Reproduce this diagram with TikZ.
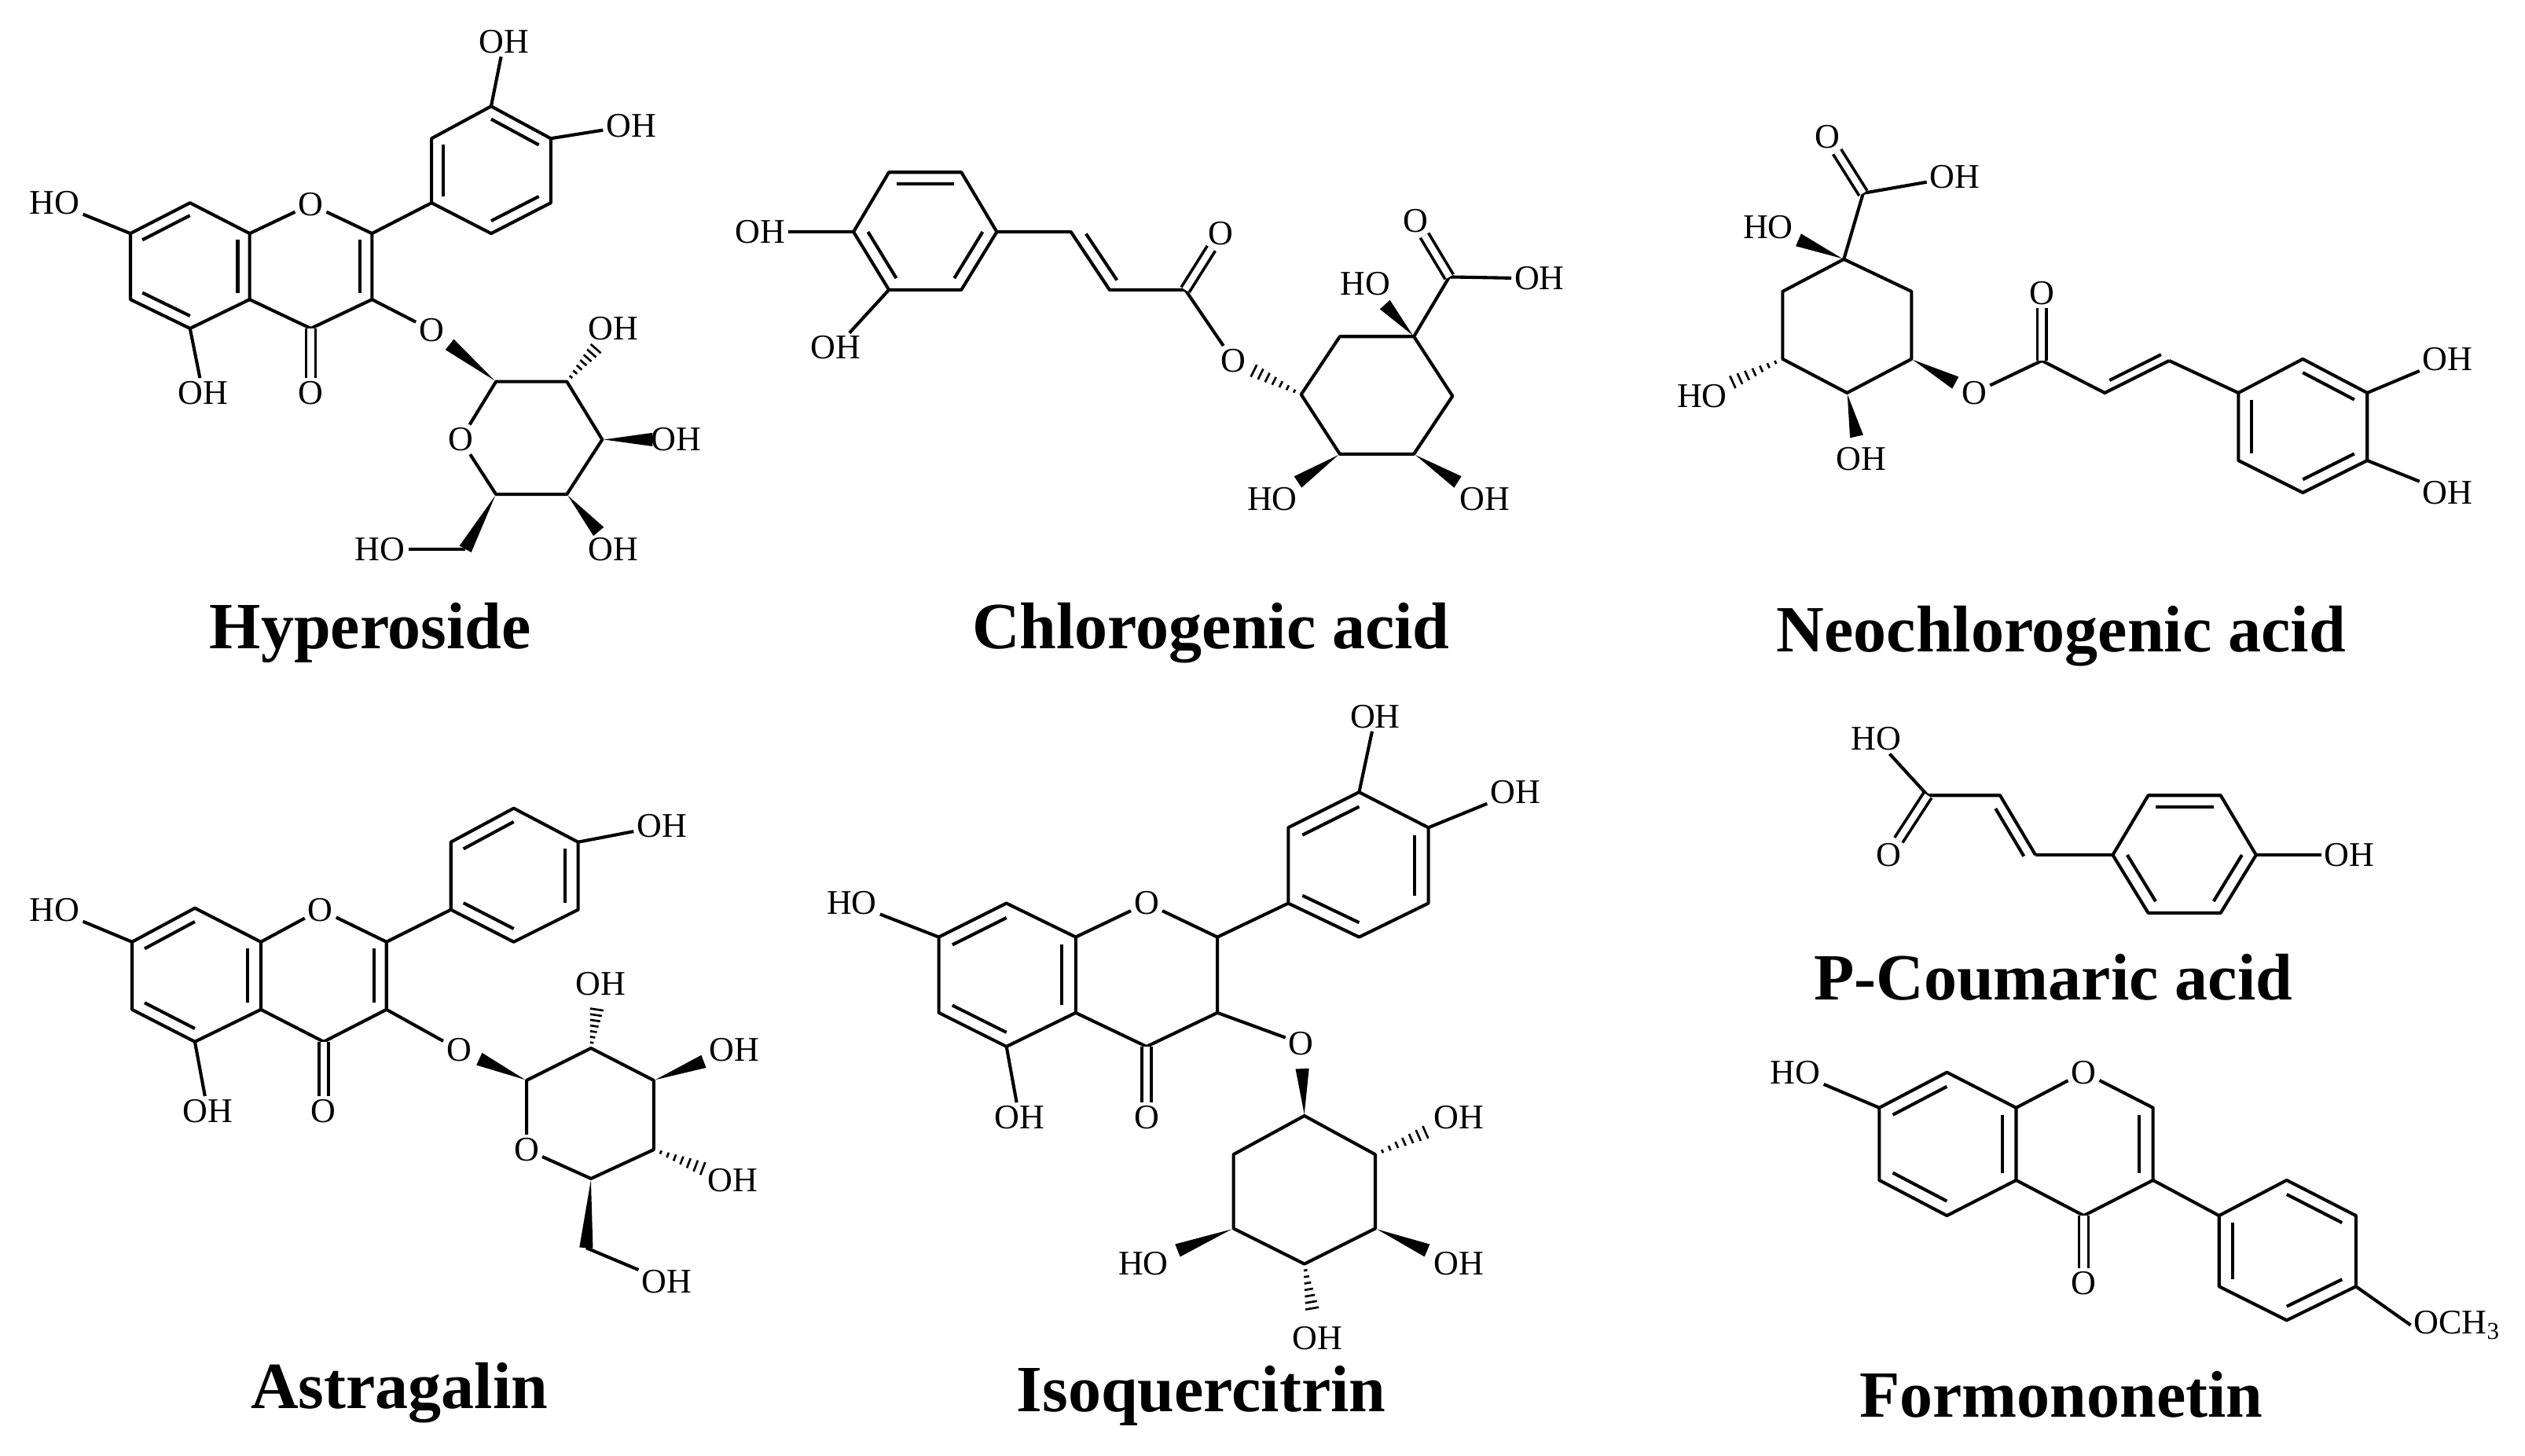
\documentclass[tikz,border=0pt]{standalone}
\usepackage{fontspec}
\setmainfont{Liberation Serif}
\usetikzlibrary{calc}
\newcommand\labfont{\fontsize{21.5}{21.5}\selectfont}
\newcommand\namefont{\fontsize{41}{41}\selectfont\bfseries}
% inner double bond: a, b, ring centre
\newcommand\ib[3]{\draw ($(#1)!0.2!(#3)$) -- ($(#2)!0.2!(#3)$);}
% wedge: narrow at #1, wide toward #2 at fraction #3
\newcommand\wdg[3]{\fill ($(#1)!0.02!(#2)$) -- ($($(#1)!#3!(#2)$)!4.2pt!90:(#1)$) -- ($($(#1)!#3!(#2)$)!4.2pt!-90:(#1)$) -- cycle;}
% hashed bond
\newcommand\hsh[3]{\foreach \t in {1,...,7}{\pgfmathsetmacro\f{#3*\t/7}\pgfmathsetmacro\w{0.6+3.6*\t/7}\draw[line width=1.3pt] ($($(#1)!\f!(#2)$)!\w pt!90:(#2)$) -- ($($(#1)!\f!(#2)$)!\w pt!-90:(#2)$);}}
\tikzset{lab/.style={font=\labfont, inner sep=1pt},
  molname/.style={font=\namefont, inner sep=0pt},
  dbl/.style={double, double distance=4pt, line width=1.8pt}}
\begin{document}
\begin{tikzpicture}[x=1pt,y=-1pt,line width=2pt,line join=round]
\useasboundingbox (0,0) rectangle (1568,904);
\fill[white] (0,0) rectangle (1568,904);
%%%%%%%%%%%%%%%% Hyperoside
\coordinate (h7) at (81,145); \coordinate (h8) at (118,126); \coordinate (h8a) at (155,145);
\coordinate (h4a) at (155,186); \coordinate (h5) at (118,204); \coordinate (h6) at (81,186);
\coordinate (h2) at (231,145); \coordinate (h3) at (231,186); \coordinate (h4) at (193,204);
\coordinate (hA) at (118,165); \coordinate (hC) at (193,165);
\node[lab] (hO1) at (193,127) {O};
\node[lab] (hO4) at (193,244) {O};
\node[lab] (hOH5) at (126,244) {OH};
\node[lab] (hHO7) at (34,126) {HO};
\draw (hHO7)--(h7)--(h8)--(h8a)--(hO1)--(h2)--(h3)--(h4)--(h4a)--(h8a);
\draw (h4a)--(h5)--(h6)--(h7); \draw (h5)--(hOH5); \draw[dbl] (h4)--(hO4);
\ib{h7}{h8}{hA} \ib{h8a}{h4a}{hA} \ib{h5}{h6}{hA} \ib{h2}{h3}{hC}
\coordinate (hb1) at (268,126); \coordinate (hb2) at (268,86); \coordinate (hb3) at (305,66);
\coordinate (hb4) at (342,86); \coordinate (hb5) at (342,126); \coordinate (hb6) at (305,145);
\coordinate (hB) at (305,106);
\node[lab] (hOH3p) at (313,26) {OH}; \node[lab] (hOH4p) at (392,78) {OH};
\draw (h2)--(hb1); \draw (hb1)--(hb2)--(hb3)--(hb4)--(hb5)--(hb6)--cycle;
\draw (hb3)--(hOH3p); \draw (hb4)--(hOH4p);
\ib{hb1}{hb2}{hB} \ib{hb3}{hb4}{hB} \ib{hb5}{hb6}{hB}
\node[lab] (hO3) at (268,205) {O};
\coordinate (hs1) at (308,237); \coordinate (hs2) at (352,237); \coordinate (hs3) at (374,273);
\coordinate (hs4) at (352,307); \coordinate (hs5) at (308,307); \coordinate (hc6) at (289,341);
\node[lab] (hsO) at (286,273) {O};
\draw (h3)--(hO3); \draw (hsO)--(hs1)--(hs2)--(hs3)--(hs4)--(hs5)--(hsO);
\node[lab] (hsOH2) at (381,204) {OH}; \node[lab] (hsOH3) at (420,273) {OH};
\node[lab] (hsOH4) at (381,341) {OH}; \node[lab] (hsHO6) at (236,341) {HO};
\wdg{hs1}{hO3}{0.72} \hsh{hs2}{hsOH2}{0.62} \wdg{hs3}{hsOH3}{0.68} \wdg{hs4}{hsOH4}{0.68} \wdg{hs5}{hc6}{1}
\draw (hc6)--(hsHO6);
\node[molname] (nHyp) at (230,393) {Hyperoside};
%%%%%%%%%%%%%%%% Chlorogenic acid
\coordinate (ca) at (552,107); \coordinate (cb) at (597,107); \coordinate (cc) at (619,144);
\coordinate (cd) at (597,180); \coordinate (ce) at (552,180); \coordinate (cf) at (530,144);
\coordinate (cR) at (575,144);
\node[lab] (cOH1) at (472,144) {OH}; \node[lab] (cOH2) at (519,216) {OH};
\draw (ca)--(cb)--(cc)--(cd)--(ce)--(cf)--cycle; \draw (cf)--(cOH1); \draw (ce)--(cOH2);
\ib{ca}{cb}{cR} \ib{cc}{cd}{cR} \ib{ce}{cf}{cR}
\coordinate (cg) at (665,144); \coordinate (ch) at (689,180); \coordinate (ci) at (736,180);
\coordinate (cref) at (712,150);
\node[lab] (cOk) at (758,145) {O}; \node[lab] (cOe) at (766,224) {O};
\draw (cc)--(cg)--(ch)--(ci)--(cOe); \ib{cg}{ch}{cref} \draw[dbl] (ci)--(cOk);
\coordinate (cr3) at (808,245); \coordinate (cr2) at (832,209); \coordinate (cr1) at (878,209);
\coordinate (cr6) at (902,246); \coordinate (cr5) at (878,282); \coordinate (cr4) at (832,282);
\draw (cr3)--(cr2)--(cr1)--(cr6)--(cr5)--(cr4)--cycle;
\hsh{cr3}{cOe}{0.7}
\node[lab] (cHO1) at (848,176) {HO}; \wdg{cr1}{cHO1}{0.6}
\coordinate (cC) at (900,172);
\node[lab] (cOc) at (879,137) {O}; \node[lab] (cOHc) at (956,173) {OH};
\draw (cr1)--(cC)--(cOHc); \draw[dbl] (cC)--(cOc);
\node[lab] (cHO4) at (790,310) {HO}; \node[lab] (cOH5) at (922,310) {OH};
\wdg{cr4}{cHO4}{0.62} \wdg{cr5}{cOH5}{0.62}
\node[molname] (nChl) at (752,393) {Chlorogenic acid};
%%%%%%%%%%%%%%%% Neochlorogenic acid
\coordinate (n1) at (1145,161); \coordinate (nC) at (1157,120);
\node[lab] (nOk) at (1135,85) {O}; \node[lab] (nOHc) at (1214,110) {OH};
\node[lab] (nHO1) at (1098,141) {HO};
\draw (n1)--(nC)--(nOHc); \draw[dbl] (nC)--(nOk); \wdg{n1}{nHO1}{0.6}
\coordinate (n2) at (1187,181); \coordinate (n3) at (1187,223); \coordinate (n4) at (1147,244);
\coordinate (n5) at (1107,223); \coordinate (n6) at (1107,181);
\draw (n1)--(n2)--(n3)--(n4)--(n5)--(n6)--cycle;
\node[lab] (nHO5) at (1057,246) {HO}; \node[lab] (nOH4) at (1156,285) {OH};
\node[lab] (nOe) at (1226,244) {O};
\hsh{n5}{nHO5}{0.62} \wdg{n4}{nOH4}{0.66} \wdg{n3}{nOe}{0.7}
\coordinate (nk) at (1268,224); \coordinate (na) at (1307,244); \coordinate (nb) at (1347,224);
\coordinate (nref) at (1322,205);
\node[lab] (nOk2) at (1268,182) {O};
\draw (nOe)--(nk)--(na)--(nb); \draw[dbl] (nk)--(nOk2); \ib{na}{nb}{nref}
\coordinate (nr1) at (1390,244); \coordinate (nr2) at (1430,223); \coordinate (nr3) at (1470,244);
\coordinate (nr4) at (1470,286); \coordinate (nr5) at (1430,306); \coordinate (nr6) at (1390,286);
\coordinate (nR) at (1430,265);
\draw (nb)--(nr1); \draw (nr1)--(nr2)--(nr3)--(nr4)--(nr5)--(nr6)--cycle;
\ib{nr2}{nr3}{nR} \ib{nr4}{nr5}{nR} \ib{nr6}{nr1}{nR}
\node[lab] (nOH3) at (1520,223) {OH}; \node[lab] (nOH4b) at (1520,306) {OH};
\draw (nr3)--(nOH3); \draw (nr4)--(nOH4b);
\node[molname] (nNeo) at (1280,395) {Neochlorogenic acid};
%%%%%%%%%%%%%%%% Astragalin
\coordinate (a7) at (82,585); \coordinate (a8) at (121,564); \coordinate (a8a) at (162,585);
\coordinate (a4a) at (162,627); \coordinate (a5) at (121,647); \coordinate (a6) at (82,627);
\coordinate (a2) at (240,585); \coordinate (a3) at (240,627); \coordinate (a4) at (201,647);
\coordinate (aA) at (121,606); \coordinate (aC) at (201,606);
\node[lab] (aO1) at (199,565) {O}; \node[lab] (aO4) at (201,690) {O};
\node[lab] (aOH5) at (129,690) {OH}; \node[lab] (aHO7) at (34,565) {HO};
\draw (aHO7)--(a7)--(a8)--(a8a)--(aO1)--(a2)--(a3)--(a4)--(a4a)--(a8a);
\draw (a4a)--(a5)--(a6)--(a7); \draw (a5)--(aOH5); \draw[dbl] (a4)--(aO4);
\ib{a7}{a8}{aA} \ib{a8a}{a4a}{aA} \ib{a5}{a6}{aA} \ib{a2}{a3}{aC}
\coordinate (ab1) at (280,565); \coordinate (ab2) at (280,523); \coordinate (ab3) at (319,502);
\coordinate (ab4) at (359,523); \coordinate (ab5) at (359,565); \coordinate (ab6) at (319,585);
\coordinate (aB) at (319,544);
\draw (a2)--(ab1); \draw (ab1)--(ab2)--(ab3)--(ab4)--(ab5)--(ab6)--cycle;
\ib{ab2}{ab3}{aB} \ib{ab4}{ab5}{aB} \ib{ab6}{ab1}{aB}
\node[lab] (aOH4p) at (411,513) {OH}; \draw (ab4)--(aOH4p);
\node[lab] (aO3) at (285,652) {O};
\coordinate (as1) at (327,671); \coordinate (as2) at (367,651); \coordinate (as3) at (406,671);
\coordinate (as4) at (406,714); \coordinate (as5) at (367,732); \coordinate (ac6) at (364,775);
\node[lab] (asO) at (327,714) {O};
\draw (a3)--(aO3); \draw (asO)--(as1)--(as2)--(as3)--(as4)--(as5)--(asO);
\node[lab] (asOH2) at (373,611) {OH}; \node[lab] (asOH3) at (456,652) {OH};
\node[lab] (asOH4) at (455,733) {OH}; \node[lab] (asOH6) at (414,796) {OH};
\wdg{as1}{aO3}{0.7} \hsh{as2}{asOH2}{0.6} \wdg{as3}{asOH3}{0.62} \hsh{as4}{asOH4}{0.62} \wdg{as5}{ac6}{1}
\draw (ac6)--(asOH6);
\node[molname] (nAst) at (248,865) {Astragalin};
%%%%%%%%%%%%%%%% Isoquercitrin
\coordinate (i7) at (583,582); \coordinate (i8) at (625,561); \coordinate (i8a) at (668,582);
\coordinate (i4a) at (668,629); \coordinate (i5) at (625,650); \coordinate (i6) at (583,629);
\coordinate (i2) at (756,582); \coordinate (i3) at (756,629); \coordinate (i4) at (712,650);
\coordinate (iA) at (625,606);
\node[lab] (iO1) at (712,561) {O}; \node[lab] (iO4) at (712,694) {O};
\node[lab] (iOH5) at (633,694) {OH}; \node[lab] (iHO7) at (529,561) {HO};
\draw (iHO7)--(i7)--(i8)--(i8a)--(iO1)--(i2)--(i3)--(i4)--(i4a)--(i8a);
\draw (i4a)--(i5)--(i6)--(i7); \draw (i5)--(iOH5); \draw[dbl] (i4)--(iO4);
\ib{i7}{i8}{iA} \ib{i8a}{i4a}{iA} \ib{i5}{i6}{iA}
\coordinate (ib1) at (800,561); \coordinate (ib2) at (800,514); \coordinate (ib3) at (844,492);
\coordinate (ib4) at (887,514); \coordinate (ib5) at (887,561); \coordinate (ib6) at (844,582);
\coordinate (iB) at (844,537);
\draw (i2)--(ib1); \draw (ib1)--(ib2)--(ib3)--(ib4)--(ib5)--(ib6)--cycle;
\ib{ib2}{ib3}{iB} \ib{ib4}{ib5}{iB} \ib{ib6}{ib1}{iB}
\node[lab] (iOH3p) at (854,445) {OH}; \node[lab] (iOH4p) at (941,492) {OH};
\draw (ib3)--(iOH3p); \draw (ib4)--(iOH4p);
\node[lab] (iO3) at (808,648) {O}; \draw (i3)--(iO3);
\coordinate (ir1) at (810,693); \coordinate (ir2) at (854,717); \coordinate (ir3) at (854,763);
\coordinate (ir4) at (810,785); \coordinate (ir5) at (766,763); \coordinate (ir6) at (766,717);
\draw (ir1)--(ir2)--(ir3)--(ir4)--(ir5)--(ir6)--cycle;
\wdg{ir1}{iO3}{0.65}
\node[lab] (irOH2) at (906,694) {OH}; \node[lab] (irOH3) at (906,785) {OH};
\node[lab] (irOH4) at (818,831) {OH}; \node[lab] (irHO5) at (710,785) {HO};
\hsh{ir2}{irOH2}{0.6} \wdg{ir3}{irOH3}{0.62} \hsh{ir4}{irOH4}{0.6} \wdg{ir5}{irHO5}{0.62}
\node[molname] (nIso) at (746,867) {Isoquercitrin};
%%%%%%%%%%%%%%%% p-Coumaric acid
\node[lab] (pHO) at (1165,459) {HO}; \node[lab] (pOk) at (1173,531) {O};
\coordinate (pC) at (1197,494); \coordinate (pa) at (1242,494); \coordinate (pb) at (1264,531);
\coordinate (pref) at (1228,535);
\draw (pHO)--(pC)--(pa)--(pb); \draw[dbl] (pC)--(pOk); \ib{pa}{pb}{pref}
\coordinate (pr1) at (1312,531); \coordinate (pr2) at (1334,494); \coordinate (pr3) at (1379,494);
\coordinate (pr4) at (1401,531); \coordinate (pr5) at (1379,567); \coordinate (pr6) at (1334,567);
\coordinate (pR) at (1357,531);
\draw (pb)--(pr1); \draw (pr1)--(pr2)--(pr3)--(pr4)--(pr5)--(pr6)--cycle;
\ib{pr2}{pr3}{pR} \ib{pr4}{pr5}{pR} \ib{pr6}{pr1}{pR}
\node[lab] (pOH) at (1459,531) {OH}; \draw (pr4)--(pOH);
\node[molname] (nPC) at (1275,607) {P-Coumaric acid};
%%%%%%%%%%%%%%%% Formononetin
\coordinate (f7) at (1167,688); \coordinate (f8) at (1209,666); \coordinate (f8a) at (1252,688);
\coordinate (f4a) at (1252,733); \coordinate (f5) at (1209,755); \coordinate (f6) at (1167,733);
\coordinate (f2) at (1337,688); \coordinate (f3) at (1337,733); \coordinate (f4) at (1294,755);
\coordinate (fA) at (1209,710); \coordinate (fC) at (1294,710);
\node[lab] (fO1) at (1294,666) {O}; \node[lab] (fO4) at (1294,797) {O};
\node[lab] (fHO) at (1115,666) {HO};
\draw (fHO)--(f7)--(f8)--(f8a)--(fO1)--(f2)--(f3)--(f4)--(f4a)--(f8a);
\draw (f4a)--(f5)--(f6)--(f7); \draw[dbl] (f4)--(fO4);
\ib{f7}{f8}{fA} \ib{f8a}{f4a}{fA} \ib{f5}{f6}{fA} \ib{f2}{f3}{fC}
\coordinate (fb1) at (1378,755); \coordinate (fb2) at (1420,733); \coordinate (fb3) at (1463,755);
\coordinate (fb4) at (1463,799); \coordinate (fb5) at (1420,820); \coordinate (fb6) at (1378,799);
\coordinate (fB) at (1420,777);
\draw (f3)--(fb1); \draw (fb1)--(fb2)--(fb3)--(fb4)--(fb5)--(fb6)--cycle;
\ib{fb2}{fb3}{fB} \ib{fb4}{fb5}{fB} \ib{fb6}{fb1}{fB}
\node[lab,anchor=west] (fOMe) at (1497,823) {OCH\textsubscript{3}};
\draw (fb4)--(fOMe.west);
\node[molname] (nFor) at (1280,866) {Formononetin};
\end{tikzpicture}
\end{document}
